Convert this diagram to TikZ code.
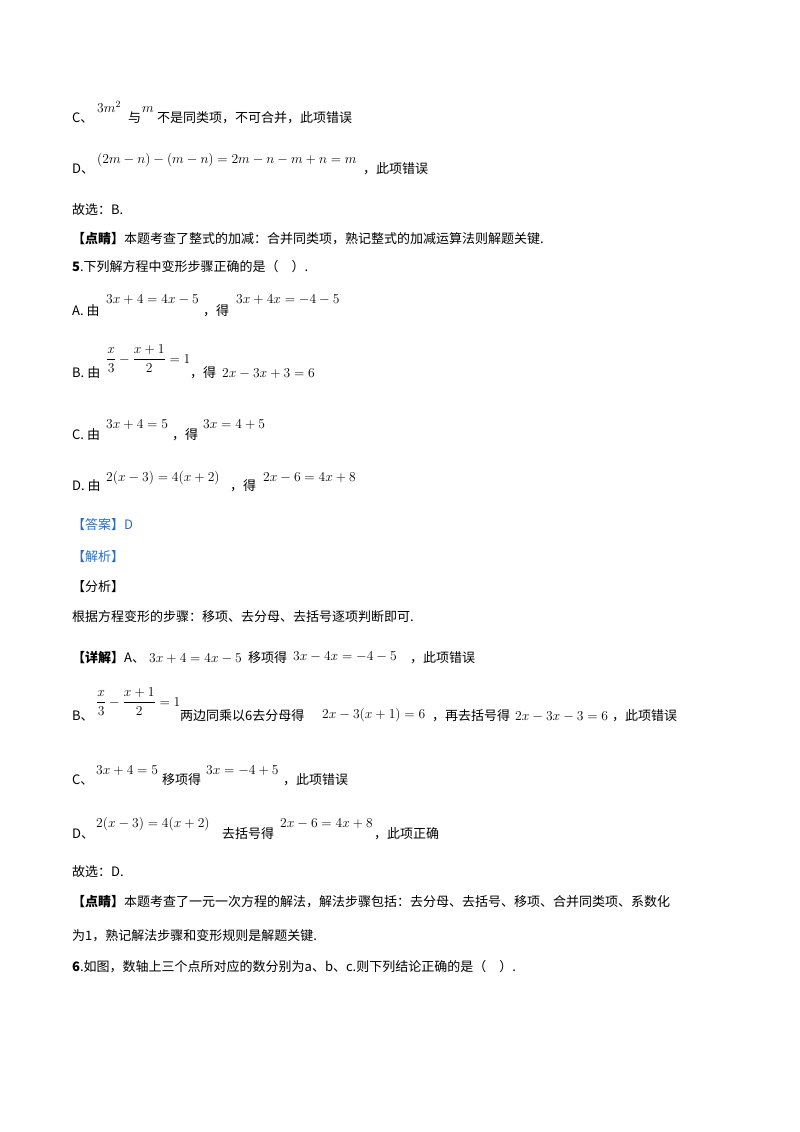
\documentclass[tikz,border=0pt]{standalone}
\usepackage{fix-cm}
\usepackage{amsmath}
\usepackage{fontspec}
\newfontfamily\cjk{Noto Sans CJK SC}
\definecolor{ansblue}{RGB}{40,110,200}
\begin{document}
\begin{tikzpicture}[x=1pt,y=1pt,
  t/.style={anchor=base west,inner sep=0pt,font=\cjk\fontsize{13}{15}\selectfont},
  m/.style={anchor=base west,inner sep=0pt,font=\fontsize{13.6}{16}\selectfont}]
\useasboundingbox (0,0) rectangle (800,-1132);
\node[t] (c1) at (72,-122) {C、};
\node[m] (c1m) at (97,-112) {$3m^2$};
\node[t] (c1b) at (128,-122) {与};
\node[m] (c1c) at (142,-112) {$m$};
\node[t] (c1d) at (157,-122) {不是同类项，不可合并，此项错误};
\node[t] (d1) at (72,-173) {D、};
\node[m] (d1m) at (97,-163) {$(2m-n)-(m-n)=2m-n-m+n=m$};
\node[t] (d1b) at (d1m.east |- d1.base) [xshift=6pt] {，此项错误};
\node[t] (g1) at (72,-214) {故选：B.};
\node[t] (p1) at (72,-243) {{\bfseries【点睛】}本题考查了整式的加减：合并同类项，熟记整式的加减运算法则解题关键.};
\node[t] (q5) at (72,-271) {\textbf{5}.下列解方程中变形步骤正确的是（\quad）.};
\node[t] (a5) at (72,-315) {A. 由};
\node[m] (a5m) at (106,-303) {$3x+4=4x-5$};
\node[t] (a5b) at (203,-315) {，得};
\node[m] (a5c) at (236,-303) {$3x+4x=-4-5$};
\node[t] (b5) at (72,-377) {B. 由};
\node[m] (b5m) at (106,-363) {$\dfrac{x}{3}-\dfrac{x+1}{2}=1$};
\node[t] (b5b) at (190,-377) {，得};
\node[m] (b5c) at (222,-377) {$2x-3x+3=6$};
\node[t] (c5) at (72,-439) {C. 由};
\node[m] (c5m) at (106,-428) {$3x+4=5$};
\node[t] (c5b) at (172,-439) {，得};
\node[m] (c5c) at (203,-428) {$3x=4+5$};
\node[t] (d5) at (72,-490) {D. 由};
\node[m] (d5m) at (106,-481) {$2(x-3)=4(x+2)$};
\node[t] (d5b) at (230,-490) {，得};
\node[m] (d5c) at (263,-481) {$2x-6=4x+8$};
\node[t,text=ansblue] (ans) at (72,-529) {【答案】D};
\node[t,text=ansblue] (jx) at (72,-561) {【解析】};
\node[t] (fx) at (72,-591) {【分析】};
\node[t] (gj) at (72,-621) {根据方程变形的步骤：移项、去分母、去括号逐项判断即可.};
\node[t] (xj) at (72,-662) {{\bfseries【详解】}A、};
\node[m] (xjm) at (149,-662) {$3x+4=4x-5$};
\node[t] (xjb) at (248,-662) {移项得};
\node[m] (xjc) at (293,-660) {$3x-4x=-4-5$};
\node[t] (xjd) at (410,-662) {，此项错误};
\node[t] (bb) at (72,-720) {B、};
\node[m] (bbm) at (96,-706) {$\dfrac{x}{3}-\dfrac{x+1}{2}=1$};
\node[t] (bbb) at (180,-720) {两边同乘以6去分母得};
\node[m] (bbc) at (322,-718) {$2x-3(x+1)=6$};
\node[t] (bbd) at (432,-720) {，再去括号得};
\node[m] (bbe) at (515,-720) {$2x-3x-3=6$};
\node[t] (bbf) at (612,-720) {，此项错误};
\node[t] (cc) at (72,-784) {C、};
\node[m] (ccm) at (96,-774) {$3x+4=5$};
\node[t] (ccb) at (162,-784) {移项得};
\node[m] (ccc) at (206,-774) {$3x=-4+5$};
\node[t] (ccd) at (283,-784) {，此项错误};
\node[t] (dd) at (72,-838) {D、};
\node[m] (ddm) at (96,-827) {$2(x-3)=4(x+2)$};
\node[t] (ddb) at (222,-838) {去括号得};
\node[m] (ddc) at (280,-827) {$2x-6=4x+8$};
\node[t] (ddd) at (374,-838) {，此项正确};
\node[t] (g2) at (72,-876) {故选：D.};
\node[t] (p2) at (72,-906) {{\bfseries【点睛】}本题考查了一元一次方程的解法，解法步骤包括：去分母、去括号、移项、合并同类项、系数化};
\node[t] (p3) at (72,-940) {为1，熟记解法步骤和变形规则是解题关键.};
\node[t] (q6) at (72,-971) {\textbf{6}.如图，数轴上三个点所对应的数分别为a、b、c.则下列结论正确的是（\quad）.};
\end{tikzpicture}
\end{document}
